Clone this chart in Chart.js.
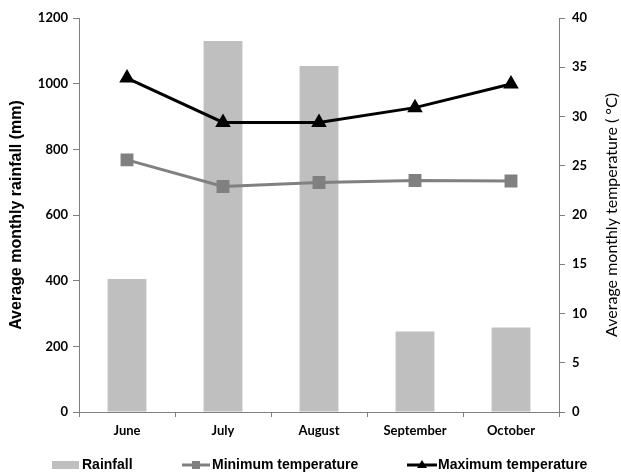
<!DOCTYPE html>
<html>
<head>
<meta charset="utf-8">
<script src="https://cdn.jsdelivr.net/npm/chart.js@4/dist/chart.umd.min.js"></script>
<style>
  html, body { margin: 0; padding: 0; background: #fff; }
  #wrap { width: 621px; height: 476px; position: relative; }
</style>
</head>
<body>
<div id="wrap"><canvas id="c" width="621" height="476"></canvas></div>
<script>
const months = ["June", "July", "August", "September", "October"];
const rainfall = [405, 1130, 1054, 245, 257];
const minTemp = [25.6, 22.9, 23.3, 23.5, 23.45];
const maxTemp = [33.9, 29.4, 29.4, 30.9, 33.3];
const rainTicks = [0, 200, 400, 600, 800, 1000, 1200];
const tempTicks = [0, 5, 10, 15, 20, 25, 30, 35, 40];

const axisColor = '#7f7f7f';
const barColor = '#bfbfbf';
const minColor = '#808080';
const maxColor = '#000000';
const tickFont = { family: 'Lato', weight: 'bold', size: 13 };

const extras = {
  id: 'extras',
  afterDraw(chart) {
    const ctx = chart.ctx;
    ctx.save();
    ctx.translate(612, 215);
    ctx.rotate(-Math.PI / 2);
    ctx.fillStyle = '#000';
    ctx.font = '16px Lato';
    ctx.textAlign = 'center';
    ctx.textBaseline = 'middle';
    ctx.fillText('Average monthly temperature ( \u00b0C)', 0, 0);
    ctx.restore();

    ctx.save();
    const cy = 465;
    ctx.font = 'bold 14px "Liberation Sans"';
    ctx.textBaseline = 'middle';
    ctx.textAlign = 'left';
    ctx.fillStyle = barColor;
    ctx.fillRect(52, cy - 4, 27, 8);
    ctx.fillStyle = '#000';
    ctx.fillText('Rainfall', 82, cy);

    ctx.strokeStyle = minColor;
    ctx.lineWidth = 3;
    ctx.beginPath(); ctx.moveTo(182, cy); ctx.lineTo(210, cy); ctx.stroke();
    ctx.fillStyle = minColor;
    ctx.fillRect(192, cy - 4, 8, 8);
    ctx.fillStyle = '#000';
    ctx.fillText('Minimum temperature', 212, cy);

    ctx.strokeStyle = maxColor;
    ctx.beginPath(); ctx.moveTo(407, cy); ctx.lineTo(437, cy); ctx.stroke();
    ctx.fillStyle = maxColor;
    ctx.beginPath(); ctx.moveTo(422, cy - 5); ctx.lineTo(427, cy + 3); ctx.lineTo(417, cy + 3); ctx.closePath(); ctx.fill();
    ctx.fillStyle = '#000';
    ctx.fillText('Maximum temperature', 438, cy);
    ctx.restore();
  }
};

new Chart(document.getElementById('c'), {
  type: 'bar',
  data: {
    labels: months,
    datasets: [
      {
        type: 'line', label: 'Maximum temperature', data: maxTemp, yAxisID: 'y1',
        borderColor: maxColor, backgroundColor: maxColor, borderWidth: 3,
        pointStyle: 'triangle', pointRadius: 6, pointHoverRadius: 6, tension: 0, order: 1
      },
      {
        type: 'line', label: 'Minimum temperature', data: minTemp, yAxisID: 'y1',
        borderColor: minColor, backgroundColor: minColor, borderWidth: 3,
        pointStyle: 'rect', pointRadius: 7, pointHoverRadius: 7, tension: 0, order: 2
      },
      {
        type: 'bar', label: 'Rainfall', data: rainfall, yAxisID: 'y',
        backgroundColor: barColor, borderWidth: 0,
        barPercentage: 0.405, categoryPercentage: 1.0, order: 3
      }
    ]
  },
  options: {
    responsive: false,
    animation: false,
    layout: { padding: { top: 18, left: 0, right: 0, bottom: 0 } },
    plugins: { legend: { display: false }, tooltip: { enabled: false } },
    scales: {
      x: {
        offset: true,
        grid: { offset: true, drawOnChartArea: false, drawTicks: true, tickLength: 5, color: axisColor, lineWidth: 1 },
        border: { display: true, color: axisColor, width: 1 },
        ticks: { color: '#000', font: tickFont, padding: 6, maxRotation: 0 },
        afterFit(s) { s.height = 64; }
      },
      y: {
        position: 'left', min: 0, max: 1200,
        afterBuildTicks(s) { s.ticks = rainTicks.map(v => ({ value: v })); },
        grid: { drawOnChartArea: false, drawTicks: true, tickLength: 6, color: axisColor },
        border: { display: true, color: axisColor, width: 1 },
        ticks: { color: '#000', font: tickFont, padding: 5, callback: v => String(v) },
        title: { display: true, text: 'Average monthly rainfall (mm)', color: '#000',
                 font: { family: 'Liberation Sans', weight: 'bold', size: 16 }, padding: { top: 7, bottom: 0 } },
        afterFit(s) { s.width = 79; }
      },
      y1: {
        position: 'right', min: 0, max: 40,
        afterBuildTicks(s) { s.ticks = tempTicks.map(v => ({ value: v })); },
        grid: { drawOnChartArea: false, drawTicks: true, tickLength: 6, color: axisColor },
        border: { display: true, color: axisColor, width: 1 },
        ticks: { color: '#000', font: tickFont, padding: 7, callback: v => String(v) },
        afterFit(s) { s.width = 62; }
      }
    }
  },
  plugins: [extras]
});
</script>
</body>
</html>
